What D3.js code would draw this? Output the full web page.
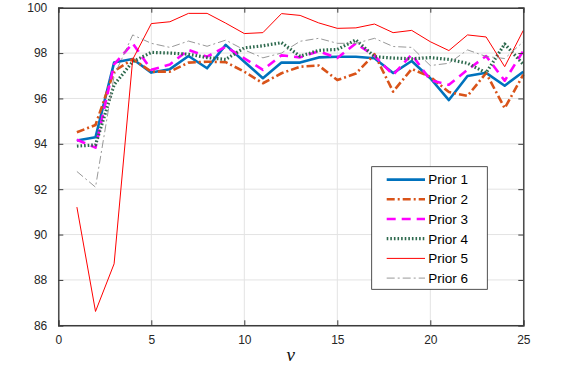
<!DOCTYPE html>
<html><head><meta charset="utf-8">
<script src="https://cdn.jsdelivr.net/npm/d3@7"></script>
<style>body{margin:0;background:#fff}svg{display:block}</style>
</head><body><svg id="c" width="576" height="367"></svg>
<script>
const nu = d3.range(1, 26);
const prior1 = [94.15,94.29,97.58,97.74,97.14,97.29,97.87,97.33,98.36,97.62,96.89,97.58,97.58,97.81,97.84,97.84,97.77,97.12,97.65,96.89,95.93,96.99,97.13,96.56,97.18];
const prior2 = [94.51,94.83,97.2,97.73,97.18,97.18,97.58,97.62,97.6,97.18,96.67,97.11,97.4,97.45,96.81,97.1,97.95,96.3,97.3,96.95,96.28,96.11,97.12,95.57,97.05];
const prior3 = [94.18,93.83,97.5,98.43,97.26,97.5,98.14,97.84,98.28,97.77,97.26,97.9,97.81,98.08,97.78,98.43,97.88,97.04,97.94,96.81,96.6,97.26,97.87,96.78,98.1];
const prior4 = [93.9,93.95,96.6,97.62,98.03,98.0,97.95,97.8,97.72,98.23,98.32,98.46,97.86,98.12,98.16,98.58,97.84,97.78,97.75,97.8,97.72,97.55,97.13,98.4,97.5];
const prior5 = [91.21,86.61,88.71,97.72,99.3,99.38,99.75,99.75,99.32,98.86,98.9,99.74,99.66,99.33,99.09,99.11,99.28,98.9,99.0,98.5,98.11,98.8,98.71,97.4,99.0];
const prior6 = [92.78,92.09,97.0,98.8,98.43,98.25,98.53,98.3,98.57,98.14,97.79,98.0,98.52,98.65,98.43,98.43,98.65,98.29,98.25,97.45,97.55,98.14,97.85,97.76,98.5];
const seriesNames = ["Prior 1","Prior 2","Prior 3","Prior 4","Prior 5","Prior 6"];
const xTicks = [0,5,10,15,20,25];
const yTicks = [86,88,90,92,94,96,98,100];

const styles = [
  {color:"#0072BD", width:2.6, dash:null},
  {color:"#D95319", width:2.6, dash:"8,3,2,3"},
  {color:"#FF00FF", width:2.6, dash:"9,6"},
  {color:"#2E6A4E", width:3.2, dash:"1.6,2"},
  {color:"#FF0000", width:1, dash:null},
  {color:"#8C8C8C", width:0.9, dash:"8,3,2,3"}
];
const data = [prior1,prior2,prior3,prior4,prior5,prior6];

const L=58.3, R=523.3, T=7.7, B=325.3;
const x = d3.scaleLinear().domain([0,25]).range([L,R]);
const y = d3.scaleLinear().domain([86,100]).range([B,T]);
const svg = d3.select("#c");
const font = "'Liberation Sans', Arial, sans-serif";

// grid
svg.append("g").selectAll("line").data(xTicks).join("line")
  .attr("x1",d=>x(d)).attr("x2",d=>x(d)).attr("y1",T).attr("y2",B)
  .attr("stroke","#e3e3e3").attr("stroke-width",1);
svg.append("g").selectAll("line").data(yTicks).join("line")
  .attr("y1",d=>y(d)).attr("y2",d=>y(d)).attr("x1",L).attr("x2",R)
  .attr("stroke","#e3e3e3").attr("stroke-width",1);

// lines
const line = d3.line().x((d,i)=>x(nu[i])).y(d=>y(d));
const plot = svg.append("g");
data.forEach((s,k)=>{
  const st = styles[k];
  plot.append("path").datum(s).attr("d",line).attr("fill","none")
    .attr("stroke",st.color).attr("stroke-width",st.width)
    .attr("stroke-dasharray",st.dash).attr("stroke-linejoin","round");
});

// axes
const axColor = "#262626";
const gx = svg.append("g").attr("transform",`translate(0,${B})`)
  .call(d3.axisBottom(x).tickValues(xTicks).tickSize(-5).tickPadding(10));
const gxt = svg.append("g").attr("transform",`translate(0,${T})`)
  .call(d3.axisTop(x).tickValues(xTicks).tickSize(-5).tickFormat(""));
const gy = svg.append("g").attr("transform",`translate(${L},0)`)
  .call(d3.axisLeft(y).tickValues(yTicks).tickSize(-5).tickPadding(11));
const gyr = svg.append("g").attr("transform",`translate(${R},0)`)
  .call(d3.axisRight(y).tickValues(yTicks).tickSize(-5).tickFormat(""));
[gx,gxt,gy,gyr].forEach(g=>{
  g.select(".domain").attr("stroke","#3c3c3c").attr("stroke-width",1.4);
  g.selectAll(".tick line").attr("stroke","#3c3c3c").attr("stroke-width",1);
  g.selectAll("text").attr("fill",axColor).style("font-family",font).style("font-size","12px");
});

// x label
svg.append("text").attr("x",(L+R)/2).attr("y",361).attr("text-anchor","middle")
  .style("font-family","'Liberation Serif','DejaVu Serif',serif").style("font-style","italic")
  .style("font-size","19px").attr("fill","#111").text("ν");

// legend
const lg = svg.append("g");
lg.append("rect").attr("x",371.7).attr("y",166.7).attr("width",115.6).attr("height",122.6)
  .attr("fill","#fff").attr("stroke","#262626").attr("stroke-width",0.8);
seriesNames.forEach((n,k)=>{
  const yy = 179.6 + k*19.7;
  const st = styles[k];
  lg.append("line").attr("x1",386.7).attr("x2",425).attr("y1",yy).attr("y2",yy)
    .attr("stroke",st.color).attr("stroke-width",st.width).attr("stroke-dasharray",st.dash);
  lg.append("text").attr("x",428.3).attr("y",yy).attr("dy","0.36em")
    .style("font-family",font).style("font-size","13.5px").attr("fill","#000").text(n);
});
</script></body></html>
